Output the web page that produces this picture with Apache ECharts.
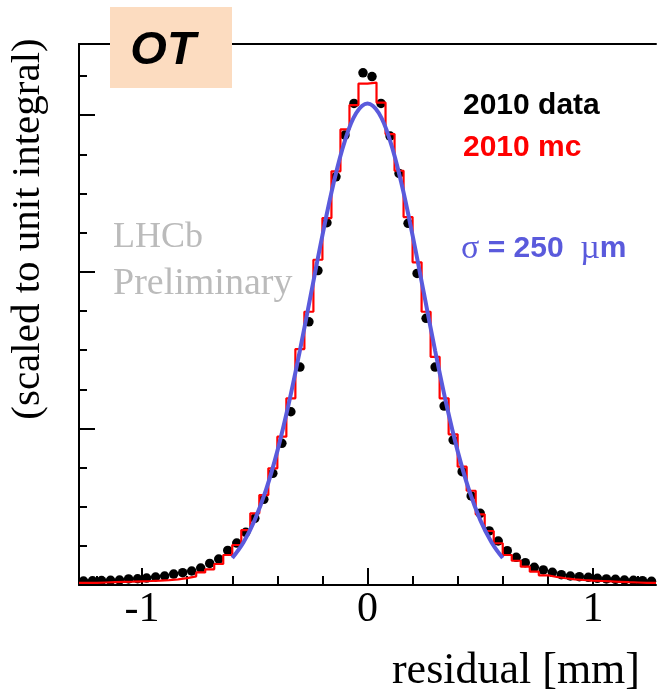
<!DOCTYPE html>
<html>
<head>
<meta charset="utf-8">
<script src="https://cdn.jsdelivr.net/npm/echarts@6/dist/echarts.min.js"></script>
<style>
html,body{margin:0;padding:0;background:#fff;}
#chart{width:657px;height:695px;}
</style>
</head>
<body>
<div id="chart"></div>
<script>
// Histogram binning (residual in mm)
const binLow = -1.28;
const binWidth = 0.04;

// 2010 data (black points), one value per bin
const dataValues = [
  0.00051,0.00054,0.00057,0.00060,0.00064,0.00077,0.00080,0.00089,
  0.00102,0.00115,0.00140,0.00157,0.00179,0.00217,0.00275,0.00332,
  0.00441,0.00536,0.00673,0.00852,0.01094,0.01426,0.01809,0.02213,
  0.02784,0.03362,0.04016,0.04627,0.05214,0.05747,0.06151,0.06542,
  0.06494,0.06151,0.05734,0.05257,0.04619,0.03980,0.03406,0.02784,
  0.02286,0.01852,0.01447,0.01137,0.00916,0.00690,0.00562,0.00438,
  0.00354,0.00285,0.00226,0.00192,0.00162,0.00132,0.00115,0.00106,
  0.00098,0.00086,0.00077,0.00073,0.00064,0.00060,0.00055,0.00047
];

// 2010 mc (red histogram), one value per bin
const mcValues = [
  0.00026,0.00028,0.00032,0.00036,0.00040,0.00043,0.00047,0.00051,
  0.00056,0.00063,0.00072,0.00087,0.00111,0.00160,0.00200,0.00268,
  0.00383,0.00511,0.00702,0.00916,0.01149,0.01490,0.01894,0.02384,
  0.03014,0.03490,0.04154,0.04687,0.05284,0.05819,0.06130,0.06404,
  0.06417,0.06162,0.05759,0.05291,0.04699,0.04122,0.03490,0.02915,
  0.02384,0.01924,0.01511,0.01204,0.00903,0.00690,0.00533,0.00383,
  0.00310,0.00234,0.00170,0.00124,0.00102,0.00086,0.00073,0.00064,
  0.00056,0.00051,0.00046,0.00041,0.00036,0.00032,0.00028,0.00026
];

// Gaussian fit curve (blue), read at these x positions
const fitX = [-0.6,-0.55,-0.5,-0.45,-0.4,-0.35,-0.3,-0.25,-0.2,-0.15,-0.1,-0.05,0,
              0.05,0.1,0.15,0.2,0.25,0.3,0.35,0.4,0.45,0.5,0.55,0.6];
const fitY = [0.00345,0.00547,0.00832,0.01217,0.01710,0.02308,0.02994,0.03730,0.04466,0.05137,0.05677,0.06028,0.06150,
              0.06028,0.05677,0.05137,0.04466,0.03730,0.02994,0.02308,0.01710,0.01217,0.00832,0.00547,0.00345];

// Axis ticks
const xRange = [-1.28, 1.28];
const yRange = [0, 0.0691];
const xMajorTicks = [-1, 0, 1];
const xMinorTicks = [-1.2,-0.8,-0.6,-0.4,-0.2,0.2,0.4,0.6,0.8,1.2];
const yMajorTicks = [0.02, 0.04, 0.06];
const yMinorTicks = [0.005,0.01,0.015,0.025,0.03,0.035,0.045,0.05,0.055,0.065];

// Build series data from the arrays
const dataPoints = dataValues.map((v, i) => [binLow + (i + 0.5) * binWidth, v]);
const mcSteps = [];
mcValues.forEach((v, i) => {
  mcSteps.push([binLow + i * binWidth, v]);
  mcSteps.push([binLow + (i + 1) * binWidth, v]);
});
const fitPoints = fitX.map((x, i) => [x, fitY[i]]);

const serif = '"Liberation Serif", "DejaVu Serif", serif';
const sans = '"Liberation Sans", Arial, Helvetica, sans-serif';
const blue = '#5a5adc';

const chart = echarts.init(document.getElementById('chart'), null, {renderer: 'canvas'});
chart.setOption({
  animation: false,
  backgroundColor: '#fff',
  grid: {left: 79, right: 1, top: 44, bottom: 110, containLabel: false},
  xAxis: [
    {
      type: 'value', min: xRange[0], max: xRange[1], position: 'bottom',
      axisLine: {show: true, onZero: false, lineStyle: {color: '#000', width: 2}},
      axisTick: {show: true, inside: true, length: 17, customValues: xMajorTicks, lineStyle: {color: '#000', width: 2}},
      axisLabel: {show: true, customValues: xMajorTicks, margin: 4, color: '#000',
        fontFamily: serif, fontSize: 42, formatter: v => (v < 0 ? '-' + Math.abs(v) : String(v))},
      splitLine: {show: false}
    },
    {
      type: 'value', min: xRange[0], max: xRange[1], position: 'bottom',
      axisLine: {show: false, onZero: false},
      axisTick: {show: true, inside: true, length: 9, customValues: xMinorTicks, lineStyle: {color: '#000', width: 2}},
      axisLabel: {show: false},
      splitLine: {show: false}
    },
    {
      type: 'value', min: xRange[0], max: xRange[1], position: 'top',
      axisLine: {show: true, onZero: false, lineStyle: {color: '#000', width: 2}},
      axisTick: {show: false}, axisLabel: {show: false}, splitLine: {show: false}
    }
  ],
  yAxis: [
    {
      type: 'value', min: yRange[0], max: yRange[1], position: 'left',
      axisLine: {show: true, onZero: false, lineStyle: {color: '#000', width: 2}},
      axisTick: {show: true, inside: true, length: 16, customValues: yMajorTicks, lineStyle: {color: '#000', width: 2}},
      axisLabel: {show: false}, splitLine: {show: false}
    },
    {
      type: 'value', min: yRange[0], max: yRange[1], position: 'left',
      axisLine: {show: false, onZero: false},
      axisTick: {show: true, inside: true, length: 8, customValues: yMinorTicks, lineStyle: {color: '#000', width: 2}},
      axisLabel: {show: false}, splitLine: {show: false}
    }
  ],
  series: [
    {
      name: '2010 data', type: 'scatter', data: dataPoints, symbol: 'circle', symbolSize: 9.5,
      itemStyle: {color: '#000', opacity: 1}, z: 2
    },
    {
      name: '2010 mc', type: 'line', data: mcSteps, symbol: 'none', showSymbol: false,
      lineStyle: {color: '#ff0000', width: 2.2}, z: 3
    },
    {
      name: 'fit', type: 'line', data: fitPoints, smooth: 0.4, symbol: 'none', showSymbol: false,
      lineStyle: {color: blue, width: 4}, z: 4
    }
  ],
  graphic: [
    {type: 'rect', shape: {x: 110, y: 7, width: 122, height: 81}, style: {fill: '#fcdcc0'}, z: 100},
    {type: 'text', x: 163, y: 51, z: 101, style: {text: 'OT', font: 'italic bold 47px ' + sans, fill: '#000', textAlign: 'center', textVerticalAlign: 'middle'}},
    {type: 'text', x: 463, y: 106, z: 101, style: {text: '2010 data', font: 'bold 30px ' + sans, fill: '#000', textAlign: 'left', textVerticalAlign: 'middle'}},
    {type: 'text', x: 463, y: 148, z: 101, style: {text: '2010 mc', font: 'bold 30px ' + sans, fill: '#ff0000', textAlign: 'left', textVerticalAlign: 'middle'}},
    {type: 'text', x: 461, y: 249, z: 101, style: {
      text: '{g|σ}{b| = 250  }{g|µ}{b|m}', textAlign: 'left', textVerticalAlign: 'middle', fill: blue,
      rich: {
        g: {font: '34px ' + serif, fill: blue},
        b: {font: 'bold 30px ' + sans, fill: blue}
      }}},
    {type: 'text', x: 113, y: 238, z: 101, style: {text: 'LHCb', font: '36px ' + serif, fill: '#bbbbbb', textAlign: 'left', textVerticalAlign: 'middle'}},
    {type: 'text', x: 113, y: 284, z: 101, style: {text: 'Preliminary', font: '38px ' + serif, fill: '#bbbbbb', textAlign: 'left', textVerticalAlign: 'middle'}},
    {type: 'text', x: 28, y: 229, rotation: Math.PI / 2, z: 101, style: {text: '(scaled to unit integral)', font: '41px ' + serif, fill: '#000', textAlign: 'center', textVerticalAlign: 'middle'}},
    {type: 'text', x: 640, y: 671, z: 101, style: {text: 'residual [mm]', font: '44px ' + serif, fill: '#000', textAlign: 'right', textVerticalAlign: 'middle'}}
  ]
});
</script>
</body>
</html>
